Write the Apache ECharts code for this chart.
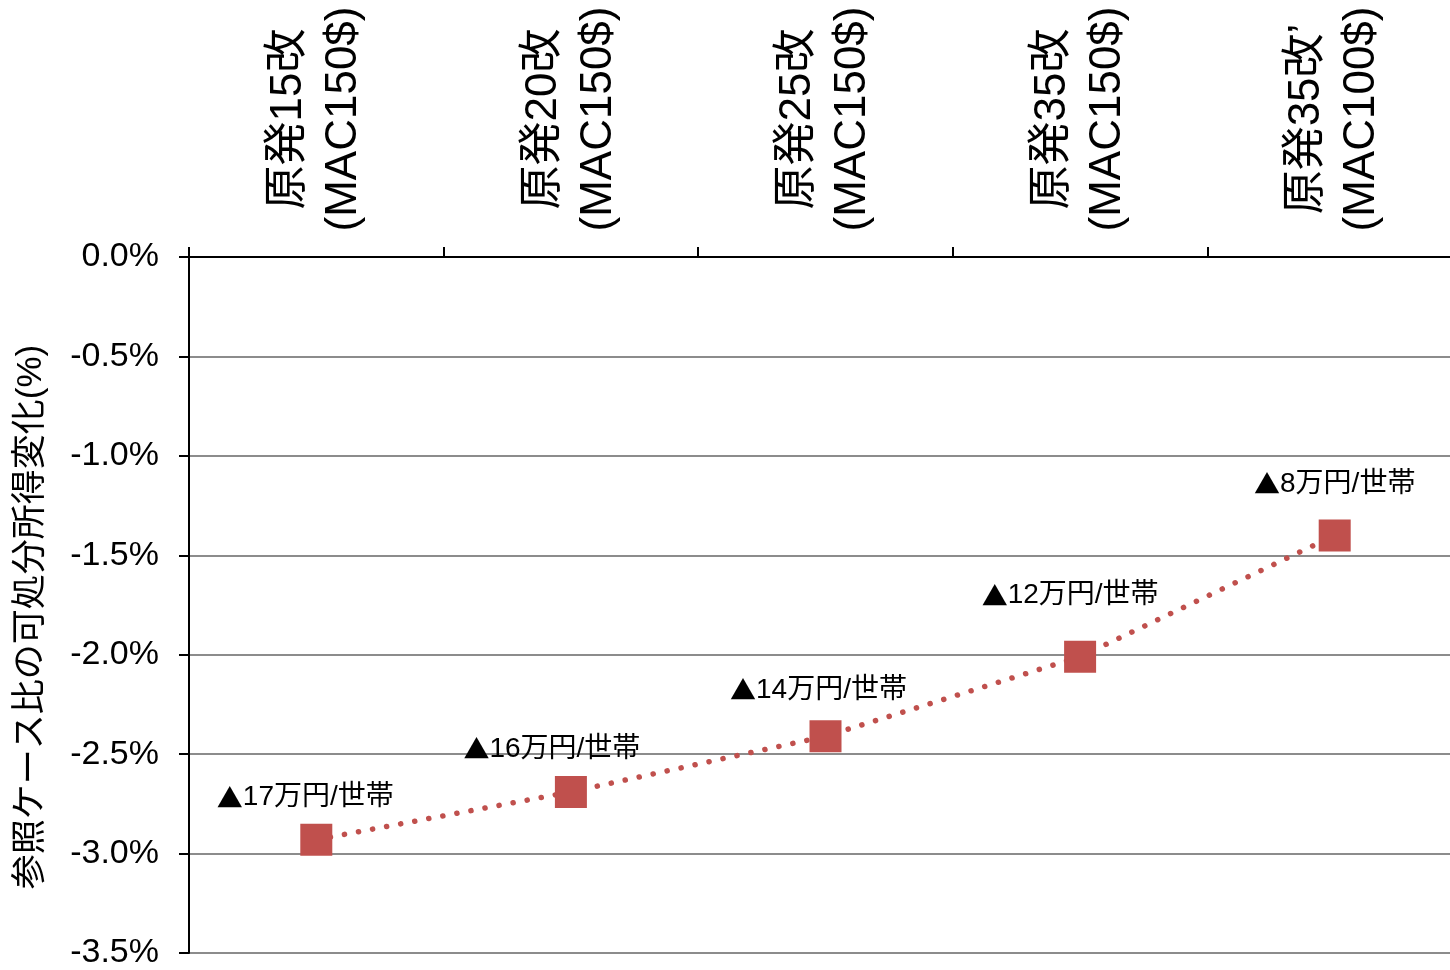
<!DOCTYPE html>
<html>
<head>
<meta charset="utf-8">
<script src="https://cdn.jsdelivr.net/npm/echarts@6/dist/echarts.min.js"></script>
<style>
html,body{margin:0;padding:0;background:#fff;}
#chart{width:1450px;height:970px;}
</style>
</head>
<body>
<div id="chart"></div>
<script>
const categories = ['原発15改\n(MAC150$)', '原発20改\n(MAC150$)', '原発25改\n(MAC150$)', '原発35改\n(MAC150$)', '原発35改’\n(MAC100$)'];
const values = [-2.93, -2.69, -2.41, -2.01, -1.40];
const pointLabels = ['▲17万円/世帯', '▲16万円/世帯', '▲14万円/世帯', '▲12万円/世帯', '▲8万円/世帯'];
const yTicks = { min: -3.5, max: 0, interval: 0.5 };
const yAxisTitle = '参照ケース比の可処分所得変化(%)';

const labelOffsets = [[-11, -42], [-19, -43], [-7, -46], [-10, -61], [0, -51]];
const FONT = '"Liberation Sans", Arial, "Noto Sans CJK JP", sans-serif';
const RED = '#C0504D';

const chart = echarts.init(document.getElementById('chart'), null, { renderer: 'canvas' });
chart.setOption({
  animation: false,
  backgroundColor: '#fff',
  grid: { left: 189, top: 257, right: -12, bottom: 17, containLabel: false, outerBoundsMode: 'none' },
  xAxis: {
    type: 'category',
    position: 'top',
    data: categories,
    boundaryGap: true,
    axisLine: { show: true, lineStyle: { color: '#000', width: 2 } },
    axisTick: { show: true, inside: false, length: 10, lineStyle: { color: '#000', width: 2 } },
    axisLabel: {
      rotate: 90,
      interval: 0,
      align: 'center',
      verticalAlign: 'middle',
      margin: 138,
      fontSize: 44,
      lineHeight: 55,
      padding: [14, 0, 0, 0],
      color: '#000',
      fontFamily: FONT
    },
    splitLine: { show: false }
  },
  yAxis: {
    type: 'value',
    min: yTicks.min,
    max: yTicks.max,
    interval: yTicks.interval,
    name: yAxisTitle,
    nameLocation: 'middle',
    nameGap: 140,
    nameRotate: 90,
    nameTextStyle: { fontSize: 35, color: '#000', fontFamily: FONT, padding: [0, 24, 0, 0] },
    axisLine: { show: true, lineStyle: { color: '#000', width: 2 } },
    axisTick: { show: true, inside: false, length: 10, lineStyle: { color: '#000', width: 2 } },
    axisLabel: {
      formatter: v => v.toFixed(1) + '%',
      fontSize: 34,
      color: '#000',
      margin: 30,
      padding: [6, 0, 0, 0],
      fontFamily: FONT
    },
    splitLine: { show: true, lineStyle: { color: '#8c8c8c', width: 2 } }
  },
  series: [{
    type: 'line',
    data: values.map((v, i) => ({
      value: v,
      label: {
        show: true,
        formatter: '{t|' + pointLabels[i].slice(0, 1) + '}' + pointLabels[i].slice(1),
        position: 'inside',
        offset: labelOffsets[i]
      }
    })),
    symbol: 'rect',
    symbolSize: 32,
    itemStyle: { color: RED },
    lineStyle: { color: RED, width: 5.5, type: [0.1, 14.2], cap: 'round' },
    label: {
      fontSize: 28,
      color: '#000',
      fontFamily: FONT,
      rich: {
        t: { fontSize: 26, color: '#000', fontFamily: '"Noto Sans CJK JP", sans-serif' }
      }
    },
    z: 3
  }]
});
</script>
</body>
</html>
